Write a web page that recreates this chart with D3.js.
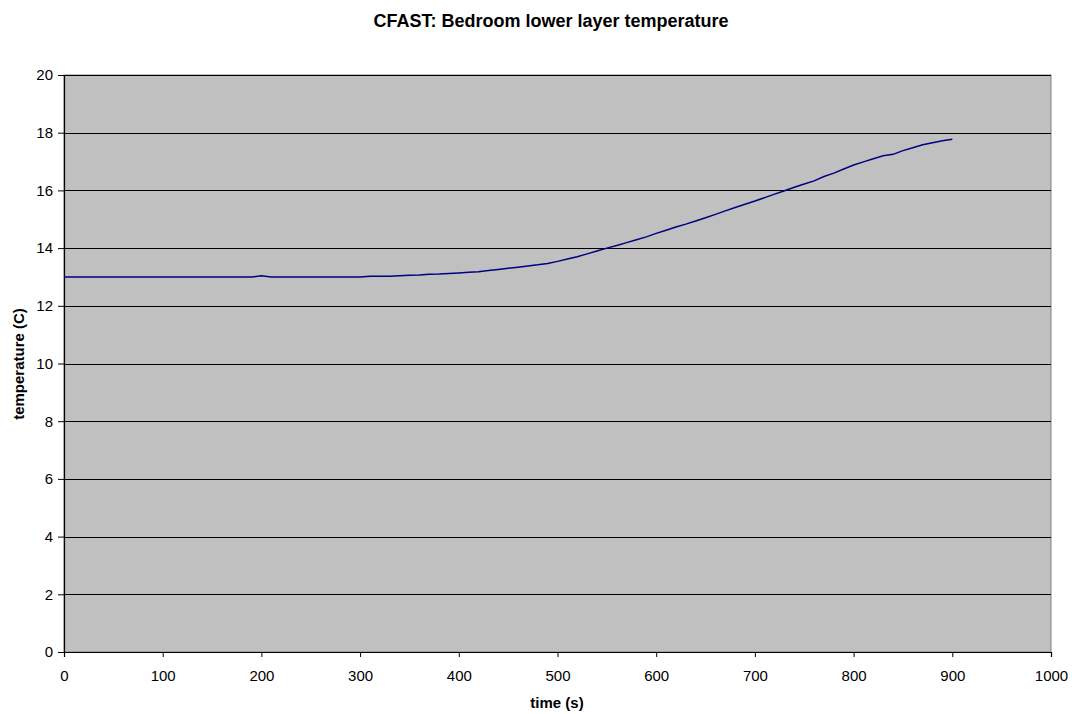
<!DOCTYPE html>
<html lang="en">
<head>
    <meta charset="UTF-8">
    <title>CFAST lower layer</title>
    <script src="https://d3js.org/d3.v7.min.js"></script>
    <style>
        body { margin: 0; background: #ffffff; }
        svg { font-family: "Liberation Sans", Arial, sans-serif; }
    </style>
</head>
<body>
    <svg width="1072" height="714"></svg>

    <script>
        // time (s), every 10 s
        const times = d3.range(0, 901, 10);
        // lower layer temperature (C)
        const temps = [
            13.00, 13.00, 13.00, 13.00, 13.00, 13.00, 13.00, 13.00, 13.00, 13.00,
            13.00, 13.00, 13.00, 13.00, 13.00, 13.00, 13.00, 13.00, 13.00, 13.00,
            13.04, 13.00, 13.00, 13.00, 13.00, 13.00, 13.00, 13.00, 13.00, 13.00,
            13.00, 13.02, 13.02, 13.02, 13.04, 13.06, 13.07, 13.09, 13.10, 13.12,
            13.14, 13.16, 13.18, 13.22, 13.26, 13.30, 13.34, 13.38, 13.42, 13.47,
            13.54, 13.62, 13.70, 13.80, 13.90, 14.00, 14.09, 14.19, 14.29, 14.39,
            14.51, 14.62, 14.73, 14.83, 14.94, 15.05, 15.17, 15.29, 15.41, 15.52,
            15.63, 15.75, 15.87, 15.99, 16.11, 16.22, 16.33, 16.48, 16.60, 16.74,
            16.88, 16.99, 17.10, 17.20, 17.25, 17.38, 17.48, 17.58, 17.65, 17.72,
            17.77
        ];
        const xTicks = d3.range(0, 1001, 100);
        const yTicks = d3.range(0, 21, 2);

        const svg = d3.select('svg');
        const plotLeft = 64, plotRight = 1051, plotTop = 75, plotBottom = 652;

        const x = d3.scaleLinear().domain([0, 1000]).range([plotLeft, plotRight]);
        const y = d3.scaleLinear().domain([0, 20]).range([plotBottom, plotTop]);

        // plot area
        svg.append("rect")
            .attr("x", plotLeft)
            .attr("y", plotTop)
            .attr("width", plotRight - plotLeft)
            .attr("height", plotBottom - plotTop)
            .attr("fill", "#c0c0c0")
            .attr("stroke", "#808080")
            .attr("stroke-width", 1);

        // gridlines
        svg.append("g")
            .selectAll("line")
            .data(yTicks.filter(d => d > 0))
            .join("line")
            .attr("x1", plotLeft)
            .attr("x2", plotRight)
            .attr("y1", d => Math.round(y(d)) + 0.5)
            .attr("y2", d => Math.round(y(d)) + 0.5)
            .attr("stroke", "#000")
            .attr("stroke-width", 1);

        // axes
        const yAxis = svg.append("g")
            .attr("transform", `translate(${plotLeft},0)`)
            .call(d3.axisLeft(y).tickValues(yTicks).tickSize(6).tickPadding(5).tickFormat(d3.format("d")));
        const xAxis = svg.append("g")
            .attr("transform", `translate(0,${plotBottom})`)
            .call(d3.axisBottom(x).tickValues(xTicks).tickSize(5).tickPadding(13).tickFormat(d3.format("d")));

        [yAxis, xAxis].forEach(g => {
            g.select(".domain").attr("stroke", "#000").attr("stroke-width", 1.2);
            g.selectAll(".tick line").attr("stroke", "#000");
            g.selectAll("text")
                .attr("fill", "#000")
                .style("font-size", "15px")
                .style("font-family", "'Liberation Sans', Arial, sans-serif");
        });

        // data line
        const pts = times.map((t, i) => ({ t: t, v: temps[i] }));
        svg.append("path")
            .datum(pts)
            .attr("fill", "none")
            .attr("stroke", "#000080")
            .attr("stroke-width", 1.5)
            .attr("d", d3.line()
                .x(d => x(d.t))
                .y(d => y(d.v))
            );

        // titles
        svg.append("text")
            .attr("x", 551)
            .attr("y", 27)
            .attr("text-anchor", "middle")
            .style("font-size", "18px")
            .style("font-weight", "bold")
            .text("CFAST: Bedroom lower layer temperature");

        svg.append("text")
            .attr("x", 557)
            .attr("y", 708)
            .attr("text-anchor", "middle")
            .style("font-size", "15px")
            .style("font-weight", "bold")
            .text("time (s)");

        svg.append("text")
            .attr("transform", "translate(24,364) rotate(-90)")
            .attr("text-anchor", "middle")
            .style("font-size", "15px")
            .style("font-weight", "bold")
            .text("temperature (C)");
    </script>
</body>
</html>
